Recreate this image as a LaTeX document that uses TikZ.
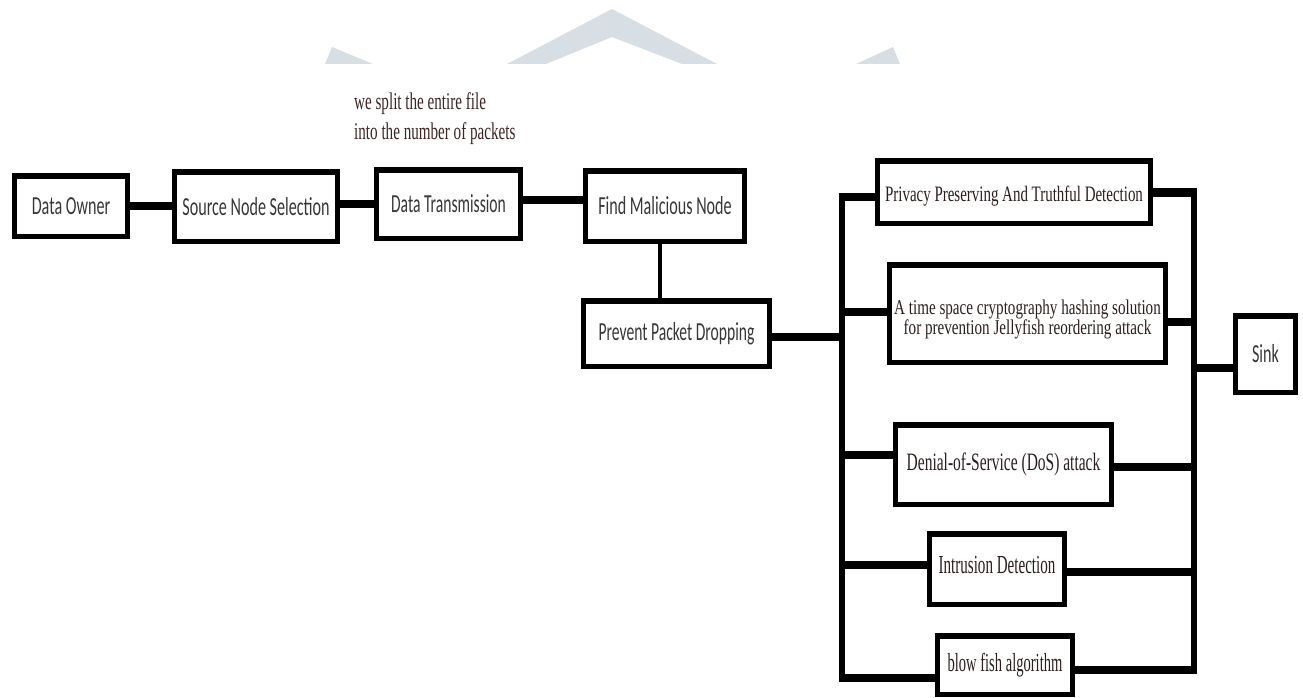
\documentclass[tikz,border=0pt]{standalone}
\usepackage{graphicx}
\usepackage{fontspec}
\newfontfamily\calf{Carlito}
\newfontfamily\timf{Liberation Serif}
\definecolor{wm}{RGB}{216,223,228}
\definecolor{lt}{RGB}{55,55,55}
\definecolor{rt}{RGB}{45,30,30}
\definecolor{lab}{RGB}{62,36,36}
\newcommand{\sx}[2]{\scalebox{#1}[1]{#2}}
\begin{document}
\begin{tikzpicture}[x=1pt,y=-1pt,
  box/.style={draw=black, line width=5pt, fill=white, inner sep=0pt, align=center},
  lbox/.style={box, font=\calf\fontsize{26}{30}\selectfont, text=lt},
  rbox/.style={box, font=\timf\fontsize{25}{22}\selectfont, text=rt},
  rtext/.style={inner sep=0pt, align=center, text=rt},
  conn/.style={line width=8.5pt},
  thinconn/.style={line width=4pt},
  busline/.style={line width=5.5pt},
  bar/.style={line width=3pt}]
\useasboundingbox (0,0) rectangle (1303,698);
\fill[white] (0,0) rectangle (1303,698);
% watermark
\fill[wm] (507,64) -- (612,9) -- (717,64) -- (682,64) -- (612,37) -- (546,64) -- cycle;
\fill[wm] (325,64) -- (332,47) -- (373,64) -- cycle;
\fill[wm] (856,64) -- (893,47) -- (900,64) -- cycle;

% label
\node[anchor=west, align=left, inner sep=0pt, text=lab,
      font=\timf\fontsize{24}{30}\selectfont] (lbl) at (354,119)
  {\sx{0.63}{we split the entire file}\\\sx{0.63}{into the number of packets}};

% left chain
\node[lbox, minimum width=113pt, minimum height=61pt] (do) at (71,206) {\sx{0.62}{Data Owner}};
\node[lbox, minimum width=163pt, minimum height=70pt] (sns) at (256,206.5) {\sx{0.62}{Source Node Selection}};
\node[lbox, minimum width=144pt, minimum height=69pt] (dt) at (448.5,204) {\sx{0.6}{Data Transmission}};
\node[lbox, minimum width=159pt, minimum height=71pt] (fmn) at (665,206) {\sx{0.62}{Find Malicious Node}};
\node[lbox, minimum width=186pt, minimum height=66pt] (ppd) at (676.5,333.5) {\sx{0.6}{Prevent Packet Dropping}};

% right column
\node[rbox, minimum width=273pt, minimum height=63pt] (ppt) at (1014,192) {};
\node[rtext, font=\timf\fontsize{22}{22}\selectfont] (pptt) at ([yshift=-4pt]ppt.center)
  {\sx{0.68}{Privacy Preserving And Truthful Detection}};
\node[rbox, minimum width=276pt, minimum height=98pt] (ts) at (1027.5,313.5) {};
\node[rtext, font=\timf\fontsize{21}{20}\selectfont] (tst) at ([yshift=-6pt]ts.center)
  {\sx{0.72}{A time space cryptography hashing solution}\\\sx{0.72}{for prevention Jellyfish reordering attack}};
\node[rbox, minimum width=216pt, minimum height=80pt] (dos) at (1003.5,464.5) {\sx{0.62}{Denial-of-Service (DoS) attack}};
\node[rbox, minimum width=135pt, minimum height=71pt] (ids) at (997,569) {};
\node[rtext, font=\timf\fontsize{26}{22}\selectfont] (idst) at ([yshift=4pt]ids.center) {\sx{0.58}{Intrusion Detection}};
\node[rbox, minimum width=135pt, minimum height=59pt, font=\timf\fontsize{26}{22}\selectfont] (bf) at (1005,665) {\sx{0.56}{blow fish algorithm}};
\node[lbox, minimum width=60pt, minimum height=77pt] (sink) at (1265.5,354) {\sx{0.62}{Sink}};

% thicker top and bottom borders
\foreach \n in {do,sns,dt,fmn,ppd,ppt,ts,dos,ids,bf,sink}{
  \draw[bar] ([yshift=-4pt]\n.north west) -- ([yshift=-4pt]\n.north east);
  \draw[bar] ([yshift=4pt]\n.south west) -- ([yshift=4pt]\n.south east);
}

% left chain connectors
\draw[conn] (do.east) -- (do.east -| sns.west);
\draw[conn] (dt.west -| sns.east) -- (dt.west);
\draw[conn] ([yshift=4pt]dt.east) -- ([yshift=4pt]dt.east -| fmn.west);
\draw[thinconn] ([xshift=-5pt]fmn.south) -- ([xshift=-5pt]fmn.south |- ppd.north);

% left bus
\coordinate (ltop) at (842,195);
\coordinate (lbot) at (842,681);
\draw[busline] (ltop) -- (lbot);
\draw[conn] ([yshift=-3.5pt]ppd.east) -- ([yshift=-3.5pt]ppd.east -| ltop);
\coordinate (b1) at (839,197);
\coordinate (b2) at (839,312);
\coordinate (b3) at (839,455);
\coordinate (b4) at (839,565);
\coordinate (b5) at (839,678);
\draw[conn] (b1) -- (b1 -| ppt.west);
\draw[conn] (b2) -- (b2 -| ts.west);
\draw[conn] (b3) -- (b3 -| dos.west);
\draw[conn] (b4) -- (b4 -| ids.west);
\draw[conn] (b5) -- (b5 -| bf.west);

% right bus
\coordinate (rtop) at (1194,189);
\coordinate (rbot) at (1194,673);
\draw[busline] (rtop) -- (rbot);
\coordinate (c1) at (1197,192.5);
\coordinate (c2) at (1197,322);
\coordinate (c3) at (1197,467);
\coordinate (c4) at (1197,572);
\coordinate (c5) at (1197,670);
\draw[conn] (c1 -| ppt.east) -- (c1);
\draw[conn] (c2 -| ts.east) -- (c2);
\draw[conn] (c3 -| dos.east) -- (c3);
\draw[conn] (c4 -| ids.east) -- (c4);
\draw[conn] (c5 -| bf.east) -- (c5);
\coordinate (s0) at (1191,368);
\draw[conn] (s0) -- (s0 -| sink.west);
\end{tikzpicture}
\end{document}
